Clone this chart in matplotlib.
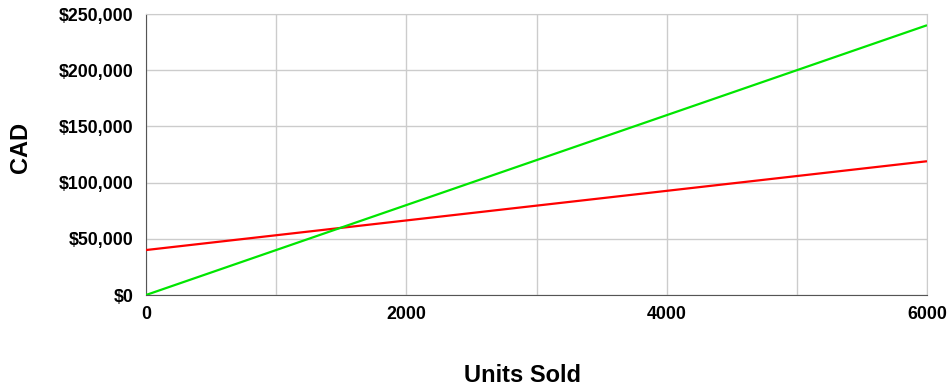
import matplotlib.pyplot as plt
from matplotlib.ticker import FuncFormatter

plt.rcParams['font.family'] = ['Liberation Sans', 'DejaVu Sans']
plt.rcParams['font.weight'] = 'bold'

units = [0, 6000]
revenue = [0, 240000]
total_cost = [40000, 119000]

x_ticks = [0, 2000, 4000, 6000]
y_ticks = [0, 50000, 100000, 150000, 200000, 250000]

fig = plt.figure(figsize=(9.49, 3.87), dpi=100)
ax = fig.add_axes([146 / 949, 1 - 295 / 387, (927 - 146) / 949, (295 - 14) / 387])

ax.plot(units, total_cost, color='#ff0000', lw=1.6, solid_capstyle='butt', zorder=3)
ax.plot(units, revenue, color='#00e600', lw=1.6, solid_capstyle='butt', zorder=4)

ax.set_xlim(0, 6000)
ax.set_ylim(0, 250000)
ax.set_xticks(x_ticks)
ax.set_yticks(y_ticks)
ax.set_xticks([1000, 3000, 5000], minor=True)
ax.yaxis.set_major_formatter(FuncFormatter(lambda v, p: f"${v:,.0f}"))

ax.grid(True, which='both', color='#cccccc', lw=1)
ax.tick_params(which='both', length=0)
ax.tick_params(axis='y', labelsize=12.8, pad=9)
ax.tick_params(axis='x', labelsize=12.8, pad=8)
for lab in ax.get_xticklabels() + ax.get_yticklabels():
    lab.set_fontweight('bold')

ax.spines['left'].set_color('#555555')
ax.spines['bottom'].set_color('#555555')
ax.spines['top'].set_color('#cccccc')
ax.spines['right'].set_color('#cccccc')

fig.text(523 / 949, 1 - 376 / 387, 'Units Sold', ha='center', va='center',
         fontsize=17, fontweight='bold')
fig.text(20 / 949, 1 - 147 / 387, 'CAD', ha='center', va='center',
         rotation=90, fontsize=17, fontweight='bold')

fig.savefig('out.png', dpi=100)
